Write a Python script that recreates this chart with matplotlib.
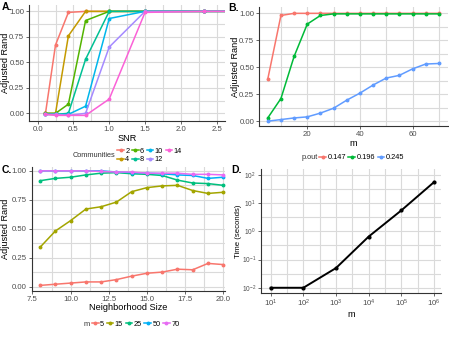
import numpy as np
import matplotlib.pyplot as plt
from matplotlib.lines import Line2D
from matplotlib.ticker import MultipleLocator, LogLocator, NullFormatter

# ---- data ----
snr = [0.11, 0.25, 0.43, 0.67, 1.0, 1.5, 2.33, 3.0]
communities = ['2', '4', '6', '8', '10', '12', '14']
ari_snr = {
    '2':  [0.0, 0.67, 0.99, 1.0, 1.0, 1.0, 1.0, 1.0],
    '4':  [0.0, 0.0, 0.76, 1.0, 1.0, 1.0, 1.0, 1.0],
    '6':  [0.0, 0.0, 0.09, 0.91, 1.0, 1.0, 1.0, 1.0],
    '8':  [-0.01, -0.01, 0.0, 0.53, 1.0, 1.0, 1.0, 1.0],
    '10': [-0.01, -0.01, -0.01, 0.07, 0.93, 1.0, 1.0, 1.0],
    '12': [-0.01, -0.01, -0.02, 0.0, 0.65, 1.0, 1.0, 1.0],
    '14': [-0.01, -0.02, -0.02, -0.02, 0.14, 0.99, 1.0, 1.0],
}
comm_colors = ['#F8766D', '#C49A00', '#53B400', '#00C094', '#00B6EB', '#A58AFF', '#FB61D7']

m_vals = [5, 10, 15, 20, 25, 30, 35, 40, 45, 50, 55, 60, 65, 70]
p_out = ['0.147', '0.196', '0.245']
ari_m = {
    '0.147': [0.39, 0.98, 1.0, 1.0, 1.0, 1.0, 1.0, 1.0, 1.0, 1.0, 1.0, 1.0, 1.0, 1.0],
    '0.196': [0.03, 0.21, 0.60, 0.90, 0.98, 0.995, 0.995, 0.995, 0.995, 0.995, 0.995, 0.995, 0.995, 0.995],
    '0.245': [0.0, 0.015, 0.03, 0.04, 0.075, 0.12, 0.195, 0.26, 0.335, 0.40, 0.425, 0.485, 0.53, 0.535],
}
pout_colors = ['#F8766D', '#00BA38', '#619CFF']

nbhd = [8, 9, 10, 11, 12, 13, 14, 15, 16, 17, 18, 19, 20]
m_groups = ['5', '15', '25', '50', '70']
ari_nbhd = {
    '5':  [0.01, 0.02, 0.03, 0.04, 0.04, 0.06, 0.09, 0.115, 0.125, 0.15, 0.145, 0.20, 0.19],
    '15': [0.34, 0.48, 0.57, 0.67, 0.69, 0.73, 0.82, 0.855, 0.87, 0.875, 0.83, 0.805, 0.815],
    '25': [0.915, 0.935, 0.945, 0.965, 0.98, 0.985, 0.975, 0.97, 0.96, 0.92, 0.895, 0.89, 0.875],
    '50': [1.0, 1.0, 1.0, 1.0, 1.0, 0.99, 0.985, 0.98, 0.975, 0.965, 0.96, 0.935, 0.945],
    '70': [1.0, 1.0, 1.0, 1.0, 0.995, 0.99, 0.99, 0.98, 0.98, 0.98, 0.97, 0.97, 0.965],
}
m_colors = ['#F8766D', '#A3A500', '#00BF7D', '#00B0F6', '#E76BF3']

size_m = [1e1, 1e2, 1e3, 1e4, 1e5, 1e6]
time_s = [0.01, 0.01, 0.05, 0.65, 5.5, 55]

# ---- style ----
plt.rcParams['font.family'] = 'Liberation Sans'
plt.rcParams['mathtext.fontset'] = 'custom'
plt.rcParams['mathtext.rm'] = 'Liberation Sans'
grid_col = '#dadada'
tick_col = '#4d4d4d'
LW = 1.1
MS = 1.8


def style(ax, ylab_x):
    for s in ['top', 'right']:
        ax.spines[s].set_visible(False)
    for s in ['left', 'bottom']:
        ax.spines[s].set_color('#333333')
        ax.spines[s].set_linewidth(0.8)
    ax.tick_params(labelsize=5.6, colors=tick_col, length=2, width=0.6, pad=1.5)
    ax.tick_params(which='minor', length=0)
    ax.grid(True, which='both', color=grid_col, linewidth=0.8)
    ax.set_axisbelow(True)
    ax.yaxis.set_label_coords(ylab_x, 0.5)


fig = plt.figure(figsize=(4.49, 3.37), dpi=100)

# A
axA = fig.add_axes([0.0646, 0.641, 0.437, 0.344])
for c, col in zip(communities, comm_colors):
    axA.plot(snr, ari_snr[c], color=col, lw=LW, marker='o', ms=MS)
axA.set_xlim(-0.12, 2.62)
axA.set_ylim(-0.075, 1.062)
axA.set_xticks([0, 0.5, 1.0, 1.5, 2.0, 2.5])
axA.set_xticklabels(['0.0', '0.5', '1.0', '1.5', '2.0', '2.5'])
axA.xaxis.set_minor_locator(MultipleLocator(0.25))
axA.set_yticks([0, 0.25, 0.5, 0.75, 1.0])
axA.set_yticklabels(['0.00', '0.25', '0.50', '0.75', '1.00'])
axA.yaxis.set_minor_locator(MultipleLocator(0.125))
axA.set_xlabel('SNR', fontsize=6.6, labelpad=0.5)
axA.set_ylabel('Adjusted Rand', fontsize=6.6)
style(axA, -0.097)

# B
axB = fig.add_axes([0.577, 0.626, 0.421, 0.353])
for p, col in zip(p_out, pout_colors):
    axB.plot(m_vals, ari_m[p], color=col, lw=LW, marker='o', ms=MS)
axB.set_xlim(1.7, 73.5)
axB.set_ylim(-0.045, 1.058)
axB.set_xticks([20, 40, 60])
axB.xaxis.set_minor_locator(MultipleLocator(10))
axB.set_yticks([0, 0.25, 0.5, 0.75, 1.0])
axB.set_yticklabels(['0.00', '0.25', '0.50', '0.75', '1.00'])
axB.yaxis.set_minor_locator(MultipleLocator(0.125))
axB.set_xlabel('m', fontsize=6.6, labelpad=0.5)
axB.set_ylabel('Adjusted Rand', fontsize=6.6)
style(axB, -0.10)

# C
axC = fig.add_axes([0.0706, 0.137, 0.43, 0.368])
for g, col in zip(m_groups, m_colors):
    axC.plot(nbhd, ari_nbhd[g], color=col, lw=LW, marker='o', ms=MS)
axC.set_xlim(7.45, 20.1)
axC.set_ylim(-0.037, 1.035)
axC.set_xticks([7.5, 10, 12.5, 15, 17.5, 20])
axC.set_xticklabels(['7.5', '10.0', '12.5', '15.0', '17.5', '20.0'])
axC.xaxis.set_minor_locator(MultipleLocator(1.25))
axC.set_yticks([0, 0.25, 0.5, 0.75, 1.0])
axC.set_yticklabels(['0.00', '0.25', '0.50', '0.75', '1.00'])
axC.yaxis.set_minor_locator(MultipleLocator(0.125))
axC.set_xlabel('Neighborhood Size', fontsize=6.6, labelpad=0.5)
axC.set_ylabel('Adjusted Rand', fontsize=6.6)
style(axC, -0.112)

# D
axD = fig.add_axes([0.581, 0.131, 0.401, 0.368])
axD.plot(size_m, time_s, color='black', lw=1.4, marker='o', ms=2)
axD.set_xscale('log')
axD.set_yscale('log')
axD.set_xlim(10 ** 0.7, 10 ** 6.21)
axD.set_ylim(10 ** -2.18, 10 ** 2.21)
axD.set_xticks([1e1, 1e2, 1e3, 1e4, 1e5, 1e6])
axD.set_yticks([1e-2, 1e-1, 1e0, 1e1, 1e2])
axD.xaxis.set_minor_locator(LogLocator(base=10, subs=[3.16]))
axD.yaxis.set_minor_locator(LogLocator(base=10, subs=[3.16]))
axD.xaxis.set_minor_formatter(NullFormatter())
axD.yaxis.set_minor_formatter(NullFormatter())
axD.set_xlabel('m', fontsize=6.6, labelpad=0.5)
axD.set_ylabel('Time (seconds)', fontsize=5.6)
style(axD, -0.105)
axD.tick_params(axis='y', labelsize=4.8)

# panel letters
for x, y, t in [(0.004, 0.978, 'A.'), (0.508, 0.975, 'B.'), (0.004, 0.497, 'C.'), (0.516, 0.497, 'D.')]:
    fig.text(x, y, t, fontsize=7.5, fontweight='bold', va='center')

# legends
leg_kw = dict(frameon=False, fontsize=5.3, handlelength=0.9, handletextpad=0.2,
              columnspacing=0.35, borderpad=0, borderaxespad=0, labelspacing=0.15)

h_comm = [Line2D([], [], color=c, lw=LW, marker='o', ms=MS) for c in comm_colors]
fig.text(0.256, 1 - 155.5 / 337, 'Communities', fontsize=5.3, ha='right', va='center', color='#333333')
fig.legend(h_comm, communities, ncol=4, loc='center left',
           bbox_to_anchor=(0.261, 1 - 155.5 / 337), **leg_kw)

h_pout = [Line2D([], [], color=c, lw=LW, marker='o', ms=MS) for c in pout_colors]
fig.text(0.707, 1 - 157.5 / 337, 'p.out', fontsize=5.3, ha='right', va='center', color='#333333')
fig.legend(h_pout, p_out, ncol=3, loc='center left',
           bbox_to_anchor=(0.711, 1 - 157.5 / 337), **leg_kw)

h_m = [Line2D([], [], color=c, lw=LW, marker='o', ms=MS) for c in m_colors]
fig.text(0.199, 1 - 324 / 337, 'm', fontsize=5.3, ha='right', va='center', color='#333333')
fig.legend(h_m, m_groups, ncol=5, loc='center left',
           bbox_to_anchor=(0.205, 1 - 324 / 337), **leg_kw)

fig.savefig('out.png', dpi=100)
